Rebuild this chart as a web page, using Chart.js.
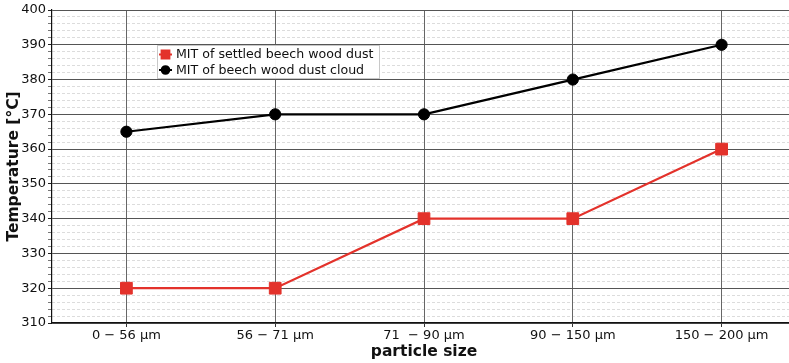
<!DOCTYPE html>
<html>
<head>
<meta charset="utf-8">
<script src="https://cdn.jsdelivr.net/npm/chart.js@4/dist/chart.umd.min.js"></script>
<style>
  html, body { margin: 0; padding: 0; background: #fff; overflow: hidden; }
  #wrap { width: 796px; height: 363px; overflow: hidden; }
  canvas { display: block; width: 796px; height: 363px; }
</style>
</head>
<body>
<div id="wrap"><canvas id="c" width="796" height="363"></canvas></div>
<script>
// Particle size fractions and minimum ignition temperatures (°C)
const categories = ['0 \u2212 56 \u00b5m', '56 \u2212 71 \u00b5m', '71  \u2212 90 \u00b5m', '90 \u2212 150 \u00b5m', '150 \u2212 200 \u00b5m'];
const settledDust = [320, 320, 340, 340, 360];
const dustCloud = [365, 370, 370, 380, 390];
const seriesLabels = ['MIT of settled beech wood dust', 'MIT of beech wood dust cloud'];
const yMin = 310, yMax = 400, yMajor = 10, yMinor = 2;

const FONT = 'DejaVu Sans';
const RED = '#e3322b';

// Legend box drawn inside the plot area
const insideLegend = {
  id: 'insideLegend',
  afterDraw(chart) {
    const ctx = chart.ctx;
    const x0 = 157, y0 = 45, w = 223, h = 34;
    ctx.save();
    ctx.fillStyle = 'rgba(255,255,255,0.95)';
    ctx.fillRect(x0, y0, w, h);
    ctx.strokeStyle = '#c8c8c8';
    ctx.lineWidth = 1;
    ctx.strokeRect(x0 + 0.5, y0 + 0.5, w - 1, h - 1);
    ctx.font = '12.6px "' + FONT + '"';
    ctx.textBaseline = 'middle';
    chart.data.datasets.forEach((ds, i) => {
      const cy = y0 + 9.5 + i * 15.5;
      ctx.strokeStyle = ds.borderColor;
      ctx.lineWidth = 2;
      ctx.beginPath();
      ctx.moveTo(159, cy);
      ctx.lineTo(172, cy);
      ctx.stroke();
      Chart.helpers.drawPoint(ctx, {
        pointStyle: ds.pointStyle,
        radius: ds.pointStyle === 'rect' ? 5.5 : 3.8,
        borderWidth: 1
      }, 165.5, cy);
      ctx.fillStyle = ds.pointBackgroundColor;
      ctx.fill();
      ctx.fillStyle = '#111';
      ctx.fillText(ds.label, 176, cy + 0.5);
    });
    ctx.restore();
  }
};

new Chart(document.getElementById('c'), {
  type: 'line',
  data: {
    labels: categories,
    datasets: [
      {
        label: seriesLabels[0],
        data: settledDust,
        borderColor: RED,
        backgroundColor: RED,
        pointBackgroundColor: RED,
        pointBorderColor: RED,
        pointStyle: 'rect',
        pointRadius: 8.3,
        pointBorderWidth: 1,
        borderWidth: 2.2,
        tension: 0
      },
      {
        label: seriesLabels[1],
        data: dustCloud,
        borderColor: '#000',
        backgroundColor: '#000',
        pointBackgroundColor: '#000',
        pointBorderColor: '#000',
        pointStyle: 'circle',
        pointRadius: 5.6,
        pointBorderWidth: 1,
        borderWidth: 2.2,
        tension: 0
      }
    ]
  },
  plugins: [insideLegend],
  options: {
    responsive: false,
    animation: false,
    layout: { autoPadding: false, padding: { top: 10, right: 0, bottom: 0, left: 0 } },
    plugins: { legend: { display: false }, tooltip: { enabled: false } },
    scales: {
      // light dashed minor grid, drawn underneath everything else
      yMinorGrid: {
        position: 'left',
        min: yMin,
        max: yMax,
        weight: 10,
        z: -1,
        ticks: { stepSize: yMinor, display: false, autoSkip: false },
        grid: {
          drawTicks: false,
          color: ctx => (ctx.tick && ctx.tick.value % yMajor === 0) ? 'rgba(0,0,0,0)' : '#dcdcdc',
          lineWidth: 1
        },
        border: { display: false, dash: [3, 2] },
        afterFit(scale) { scale.width = 0; }
      },
      x: {
        type: 'category',
        offset: true,
        grid: {
          offset: false,
          color: '#666',
          lineWidth: 1,
          drawTicks: true,
          tickLength: 4,
          tickColor: '#333'
        },
        border: { color: '#111', width: 1.2 },
        ticks: {
          color: '#111',
          font: { family: FONT, size: 13 },
          padding: 1,
          maxRotation: 0,
          autoSkip: false
        },
        title: {
          display: true,
          text: 'particle size',
          color: '#111',
          font: { family: FONT, size: 15.5, weight: 'bold' },
          padding: { top: 0, bottom: 2 }
        },
        afterFit(scale) { scale.height = 40; }
      },
      y: {
        position: 'left',
        min: yMin,
        max: yMax,
        weight: 0,
        ticks: {
          stepSize: yMinor,
          autoSkip: false,
          color: '#111',
          font: { family: FONT, size: 13 },
          padding: 2,
          callback: v => (v % yMajor === 0 ? String(v) : '')
        },
        grid: {
          color: ctx => (ctx.tick && ctx.tick.value % yMajor === 0) ? '#555' : 'rgba(0,0,0,0)',
          lineWidth: 1,
          drawTicks: true,
          tickLength: 4,
          tickColor: ctx => (ctx.tick && ctx.tick.value % yMajor === 0) ? '#222' : '#777'
        },
        border: { color: '#111', width: 1.2 },
        title: {
          display: true,
          text: 'Temperature [\u00b0C]',
          color: '#111',
          font: { family: FONT, size: 15.5, weight: 'bold' },
          padding: { top: 5, bottom: 0 }
        },
        afterFit(scale) { scale.width = 52; }
      }
    }
  }
});
</script>
</body>
</html>
